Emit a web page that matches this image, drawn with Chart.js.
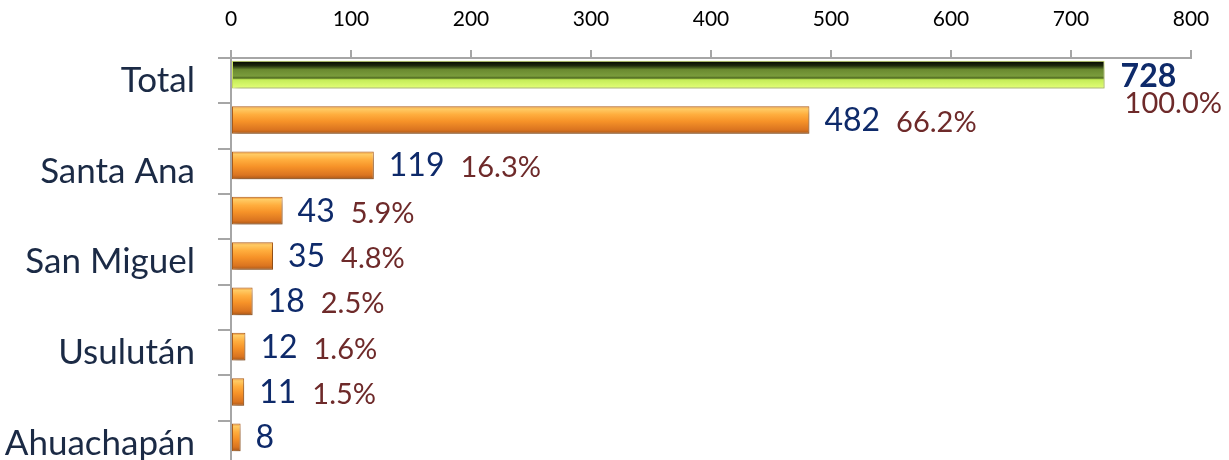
<!doctype html>
<html>
<head>
<meta charset="UTF-8">
<title>Casos por departamento</title>
<script src="https://cdn.jsdelivr.net/npm/chart.js@4.4.1/dist/chart.umd.min.js"></script>
<style>
  html, body { margin: 0; padding: 0; background: #fff; overflow: hidden; }
  #wrap { width: 1229px; height: 460px; overflow: hidden; }
</style>
</head>
<body>
<div id="wrap">
  <canvas id="canvas" width="1229" height="466"></canvas>
</div>
<script>
// values
var categories = ["Total", "San Salvador", "Santa Ana", "La Libertad", "San Miguel", "Sonsonate", "Usulután", "La Paz", "Ahuachapán"];
var counts = [728, 482, 119, 43, 35, 18, 12, 11, 8];
var percents = ["100.0%", "66.2%", "16.3%", "5.9%", "4.8%", "2.5%", "1.6%", "1.5%", ""];
var xTicks = [0, 100, 200, 300, 400, 500, 600, 700, 800];

var FONT = "Lato";
var BAR_SHIFT = -6;   // bars sit a bit high in their band, shadow below

function barFill(c) {
	var chart = c.chart;
	if (c.type !== 'data' || !chart.chartArea) return '#F7941D';
	var y = chart.scales.y.getPixelForValue(c.dataIndex);
	var h = 14;
	var g = chart.ctx.createLinearGradient(0, y - h, 0, y + h);
	if (c.dataIndex === 0) {
		g.addColorStop(0, '#000000');
		g.addColorStop(0.18, '#1e2a0c');
		g.addColorStop(0.32, '#6a8a30');
		g.addColorStop(0.55, '#7a9c3c');
		g.addColorStop(0.62, '#4e6820');
		g.addColorStop(0.68, '#c4ec58');
		g.addColorStop(1, '#e4ff78');
	} else {
		g.addColorStop(0, '#E07818');
		g.addColorStop(0.1, '#FFCC66');
		g.addColorStop(0.3, '#FFAE3E');
		g.addColorStop(0.55, '#F69228');
		g.addColorStop(0.85, '#DA7420');
		g.addColorStop(1, '#A65618');
	}
	return g;
}

var shiftBars = {
	id: 'shiftBars',
	beforeDatasetsDraw: function(chart) {
		var ctx = chart.ctx;
		ctx.save();
		ctx.translate(0, BAR_SHIFT);
		ctx.shadowColor = 'rgba(0,0,0,0.28)';
		ctx.shadowBlur = 6;
		ctx.shadowOffsetX = 2;
		ctx.shadowOffsetY = 5;
	},
	afterDatasetsDraw: function(chart) {
		chart.ctx.restore();
	}
};

var barLabels = {
	id: 'barLabels',
	afterDraw: function(chart) {
		var ctx = chart.ctx;
		var meta = chart.getDatasetMeta(0);
		ctx.save();
		ctx.textAlign = 'left';
		ctx.textBaseline = 'alphabetic';
		meta.data.forEach(function(bar, i) {
			var y = bar.y + BAR_SHIFT;
			if (i === 0) {
				ctx.font = 'bold 32px ' + FONT;
				ctx.fillStyle = '#0E2A6A';
				ctx.fillText(String(counts[i]), bar.x + 16, y + 12);
				ctx.font = '29px ' + FONT;
				ctx.fillStyle = '#6E2A2A';
				ctx.fillText(percents[i], bar.x + 20, y + 38);
				return;
			}
			ctx.font = '32px ' + FONT;
			ctx.fillStyle = '#0E2A6A';
			var tx = bar.x + 15;
			ctx.fillText(String(counts[i]), tx, y + 11);
			var w = ctx.measureText(String(counts[i])).width;
			if (percents[i]) {
				ctx.font = '29px ' + FONT;
				ctx.fillStyle = '#6E2A2A';
				ctx.fillText(percents[i], tx + w + 16, y + 12);
			}
		});
		ctx.restore();
	}
};

window.onload = function() {
	var ctx = document.getElementById("canvas").getContext("2d");
	window.myBar = new Chart(ctx, {
		type: 'bar',
		data: {
			labels: categories,
			datasets: [{
				data: counts,
				backgroundColor: barFill,
				borderColor: function(c) { return c.dataIndex === 0 ? '#cfe860' : '#B0601C'; },
				borderWidth: 1,
				borderSkipped: false,
				barPercentage: 0.61,
				categoryPercentage: 1
			}]
		},
		options: {
			indexAxis: 'y',
			responsive: false,
			animation: false,
			layout: { padding: { top: 0, right: 38, bottom: 0, left: 0 } },
			plugins: { legend: { display: false }, tooltip: { enabled: false } },
			scales: {
				x: {
					position: 'top',
					min: 0,
					max: 800,
					afterBuildTicks: function(scale) {
						scale.ticks = xTicks.map(function(v) { return { value: v }; });
					},
					afterFit: function(scale) { scale.height = 58; },
					grid: { drawOnChartArea: false, drawTicks: true, tickLength: 8, color: '#A6A6A6', lineWidth: 2 },
					border: { display: true, color: '#A6A6A6', width: 2 },
					ticks: { padding: 18, color: '#000', font: { family: FONT, size: 21 } }
				},
				y: {
					afterFit: function(scale) {
						scale.width = 231;
						scale.paddingTop = 0;
						scale.paddingBottom = 0;
					},
					grid: { offset: true, drawOnChartArea: false, drawTicks: true, tickLength: 13, color: '#A6A6A6', lineWidth: 2 },
					border: { display: true, color: '#A6A6A6', width: 2 },
					ticks: {
						autoSkip: false,
						padding: 23,
						color: '#1B2A45',
						font: { family: FONT, size: 35 },
						callback: function(v, i) { return i % 2 === 0 ? categories[i] : ''; }
					}
				}
			}
		},
		plugins: [shiftBars, barLabels]
	});
};
</script>
</body>
</html>
